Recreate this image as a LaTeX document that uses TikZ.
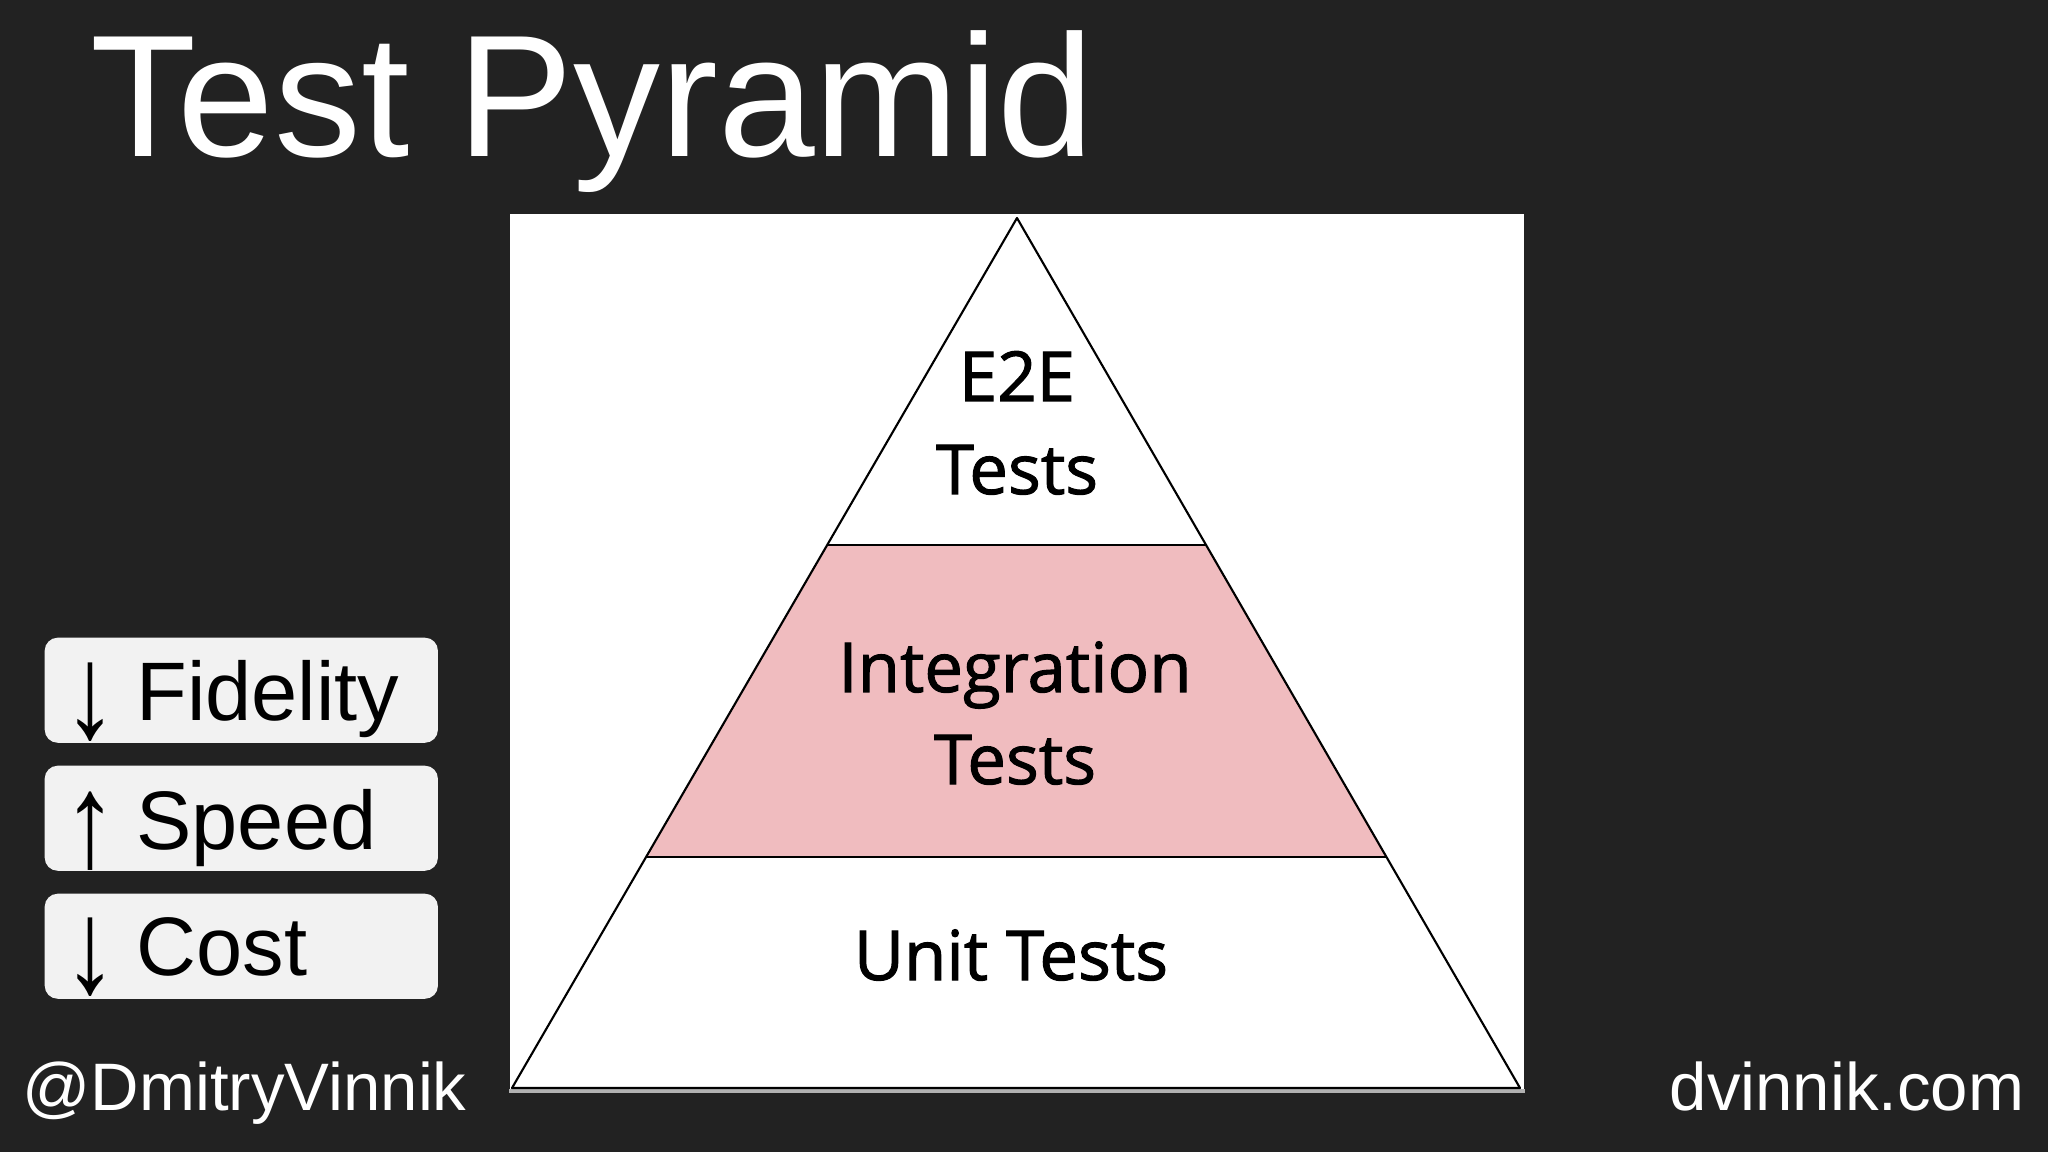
\documentclass[tikz,border=0pt]{standalone}
\usepackage{fontspec}
\usetikzlibrary{calc}
\setmainfont{Liberation Sans}
\newfontfamily\pyrfont[FakeBold=1.5]{Open Sans}
\definecolor{bgdark}{HTML}{222222}
\definecolor{pinkband}{RGB}{240,188,191}
\definecolor{boxfill}{HTML}{F2F2F2}
\newcommand{\tallarrow}[1]{\raisebox{-5.1pt}{\scalebox{1.3}[1.6]{#1}}\hspace{-1.2pt}}
\tikzset{
  tag/.style={draw=none, fill=boxfill, rounded corners=13*0.01cm, minimum width=3.93cm, minimum height=1.05cm, inner sep=0, anchor=north west},
  tagtext/.style={anchor=base west, inner sep=0, text=black, font=\fontsize{23.6}{26}\selectfont},
  pyrtext/.style={anchor=base, inner sep=0, text=black, font=\pyrfont\fontsize{19.6}{24}\selectfont},
  footer/.style={inner sep=0, text=white, font=\fontsize{19.1}{22}\selectfont},
  pyrline/.style={draw=black, line width=0.6pt, line join=round}
}
\begin{document}
\begin{tikzpicture}[x=0.01cm,y=-0.01cm]
\useasboundingbox (0,0) rectangle (2048,1152);
\fill[bgdark] (0,0) rectangle (2048,1152);
% title
\node[anchor=base west, inner sep=0, text=white, font=\fontsize{49.4}{54}\selectfont] (title) at (90,157) {Test Pyramid};
% panel
\node[fill=white, inner sep=0, minimum width=10.14cm, minimum height=8.78cm, anchor=north west] (panel) at (509,213) {};
\draw[gray!60, line width=1.2pt] ($(panel.south west)+(0,-2)$) -- ($(panel.south east)+(0,-2)$);
% pyramid
\coordinate (apex) at (1017,218);
\coordinate (bl) at (512,1088);
\coordinate (br) at (1520,1088);
\coordinate (l1) at (827.2,545);
\coordinate (r1) at (1206.1,545);
\coordinate (l2) at (646.1,857);
\coordinate (r2) at (1386.4,857);
\fill[pinkband] (l1) -- (r1) -- (r2) -- (l2) -- cycle;
\draw[pyrline] (apex) -- (bl) -- (br) -- cycle;
\draw[pyrline] (l1) -- (r1);
\draw[pyrline] (l2) -- (r2);
\node[pyrtext] (e2ea) at (1017,401) {E2E};
\node[pyrtext] (e2eb) at (1017,494) {Tests};
\node[pyrtext] (inta) at (1015,692) {Integration};
\node[pyrtext] (intb) at (1015,784) {Tests};
\node[pyrtext] (unit) at (1011,980) {Unit Tests};
% tags
\node[tag] (box1) at (44,637) {};
\node[tag] (box2) at (44,765) {};
\node[tag] (box3) at (44,893) {};
\node[tagtext] (fid) at (63,720) {\tallarrow{↓} Fidelity};
\node[tagtext] (spd) at (63,849) {\tallarrow{↑} Speed};
\node[tagtext] (cst) at (63,975) {\tallarrow{↓} Cost};
% footer
\node[footer, anchor=base west] (handle) at (22,1110) {@DmitryVinnik};
\node[footer, anchor=base east] (site) at (2025,1110) {dvinnik.com};
\end{tikzpicture}
\end{document}
